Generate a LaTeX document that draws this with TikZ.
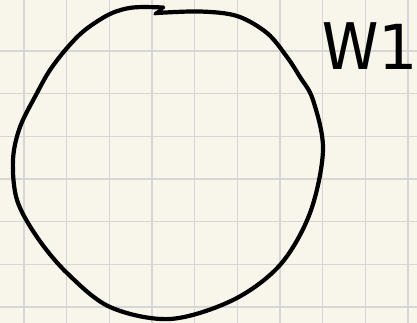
\documentclass[tikz,border=0pt]{standalone}
\usepackage{fontspec}
\setmainfont{Fira Sans}
\newfontfamily\onefont{DejaVu Sans}
\definecolor{paper}{HTML}{F8F6EA}
\definecolor{gridc}{HTML}{D6D6D4}
\begin{document}
\begin{tikzpicture}[x=1pt,y=-1pt,
  gridline/.style={draw=gridc,line width=1.4pt},
  ink/.style={draw=black,line width=4.2pt,line cap=round,line join=round}]
\path[use as bounding box] (0,0) rectangle (417,323);
\clip (0,0) rectangle (417,323);
\fill[paper] (0,0) rectangle (417,323);
\foreach \gx in {24,66.7,109.3,152,194.7,237.3,280,322.7,365.3,408}
  \draw[gridline] (\gx,0) -- (\gx,323);
\foreach \gy in {51,93.7,136.3,179,221.7,264.3,307}
  \draw[gridline] (0,\gy) -- (417,\gy);
\draw[ink] plot[smooth,tension=0.55] coordinates {
  (163,7.5) (133,7.5) (110,14) (85,30) (67,48) (50,70) (37,93) (20,127) (13,160) (17,200)
  (37,237) (67,273) (110,307) (170,319) (233,300) (280,265) (310,213)
  (323,150) (313,100) (300,77) (287,57) (267,33) (237,16) (200,11.5) (157,13)};
\draw[ink,line width=3.4pt] (155,14) -- (162,9);
\node[anchor=base west,inner sep=0pt,font=\fontsize{68}{68}\selectfont] (w1) at (322,70) {W{\onefont\fontsize{62}{62}\selectfont 1}};
\end{tikzpicture}
\end{document}
